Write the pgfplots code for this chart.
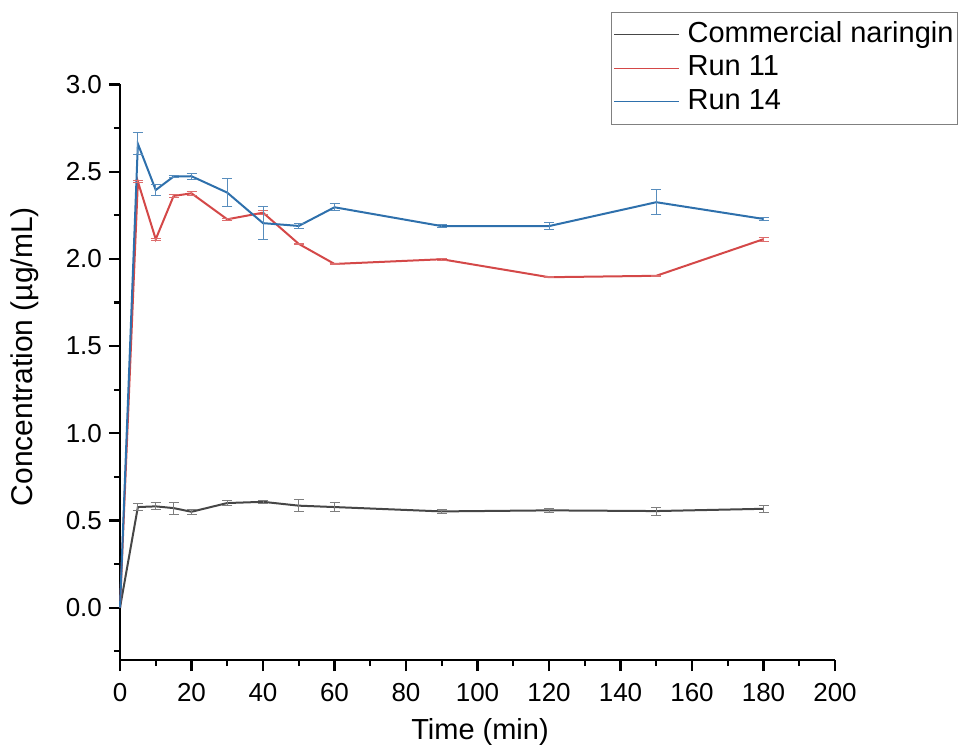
\documentclass[border=0pt]{standalone}
\usepackage{fontspec}
\setmainfont{Liberation Sans}
\usepackage{pgfplots}
\pgfplotsset{compat=1.18}
\usepackage{pgfplotstable}

\definecolor{cblack}{RGB}{70,70,70}
\definecolor{cred}{RGB}{212,72,72}
\definecolor{cblue}{RGB}{46,112,172}

\pgfplotsset{thinlegend/.style={legend image code/.code={\draw[##1, line width=0.5pt] (0pt,0pt) -- (32.5pt,0pt);}}}

\pgfplotstableread{
t y e
0 0 0
5 0.577 0.02
10 0.581 0.02
15 0.571 0.035
20 0.550 0.015
30 0.600 0.015
40 0.607 0.01
50 0.585 0.035
60 0.577 0.025
90 0.552 0.01
120 0.558 0.012
150 0.554 0.023
180 0.567 0.02
}\commercial

\pgfplotstableread{
t y e
0 0 0
5 2.443 0.006
10 2.113 0.005
15 2.361 0.01
20 2.376 0.01
30 2.227 0.006
40 2.265 0.01
50 2.086 0.005
60 1.971 0.004
90 1.998 0.006
120 1.895 0.004
150 1.903 0.004
180 2.113 0.012
}\runeleven

\pgfplotstableread{
t y e
0 0 0
5 2.660 0.063
10 2.395 0.033
15 2.472 0.008
20 2.474 0.016
30 2.380 0.080
40 2.205 0.095
50 2.189 0.015
60 2.296 0.020
90 2.188 0.008
120 2.188 0.018
150 2.325 0.072
180 2.229 0.010
}\runfourteen

\begin{document}
\begin{tikzpicture}
\begin{axis}[
  at={(0,0)}, anchor=south west,
  scale only axis, width=357.5pt, height=287.75pt,
  xmin=0, xmax=200, ymin=-0.3, ymax=3.0,
  axis x line*=bottom, axis y line*=left,
  axis line style={line width=1.3pt, black, -},
  xtick={0,20,...,200}, minor xtick={10,30,...,190},
  ytick={0,0.5,...,3}, minor ytick={-0.25,0.25,0.75,...,2.75},
  tick align=outside,
  major tick length=5.5pt, minor tick length=3pt,
  every tick/.style={line width=1.1pt, black},
  yticklabel style={/pgf/number format/.cd, fixed, fixed zerofill, precision=1},
  xticklabel style={yshift=-2.5pt},
  /pgf/number format/assume math mode=true,
  tick label style={font=\fontsize{13}{15}\selectfont},
  xlabel={Time (min)}, ylabel={Concentration (µg/mL)},
  xlabel style={font=\fontsize{14.5}{16}\selectfont, at={(axis description cs:0.5035,-0.1373)}, anchor=base},
  ylabel style={font=\fontsize{15}{17}\selectfont, at={(axis description cs:-0.1230,0.527)}, anchor=base},
  clip=false,
  legend style={at={(rel axis cs:0.6867,1.1265)}, anchor=north west,
    draw=gray, line width=0.6pt, inner xsep=1pt, inner ysep=4.5pt,
    font=\fontsize{14.5}{16}\selectfont,
    nodes={inner xsep=1pt, inner ysep=0pt, text height=10.5pt, text depth=3pt},
    row sep=3.3pt, column sep=3pt},
  legend cell align=left,
]
\addplot[cblack, line width=1pt, thinlegend]
  table[x=t, y=y] {\commercial};
\addlegendentry{Commercial naringin\hspace{2pt}}
\addplot[cred, line width=1pt, thinlegend]
  table[x=t, y=y] {\runeleven};
\addlegendentry{Run 11}
\addplot[cblue, line width=1pt, thinlegend]
  table[x=t, y=y] {\runfourteen};
\addlegendentry{Run 14}

\addplot[draw=none, mark=none, forget plot, skip coords between index={0}{1},
  error bars/.cd, y dir=both, y explicit,
  error bar style={color=cblack!70, line width=0.5pt},
  error mark options={rotate=90, mark size=2.5pt, line width=0.5pt, color=cblack!70}]
  table[x=t, y=y, y error=e] {\commercial};
\addplot[draw=none, mark=none, forget plot, skip coords between index={0}{1},
  error bars/.cd, y dir=both, y explicit,
  error bar style={color=cred!80, line width=0.5pt},
  error mark options={rotate=90, mark size=2.5pt, line width=0.5pt, color=cred!80}]
  table[x=t, y=y, y error=e] {\runeleven};
\addplot[draw=none, mark=none, forget plot, skip coords between index={0}{1},
  error bars/.cd, y dir=both, y explicit,
  error bar style={color=cblue!80, line width=0.5pt},
  error mark options={rotate=90, mark size=2.5pt, line width=0.5pt, color=cblue!80}]
  table[x=t, y=y, y error=e] {\runfourteen};
\end{axis}
\pgfresetboundingbox
\useasboundingbox (-60pt,-44.5pt) rectangle (424pt,330pt);
\end{tikzpicture}
\end{document}
